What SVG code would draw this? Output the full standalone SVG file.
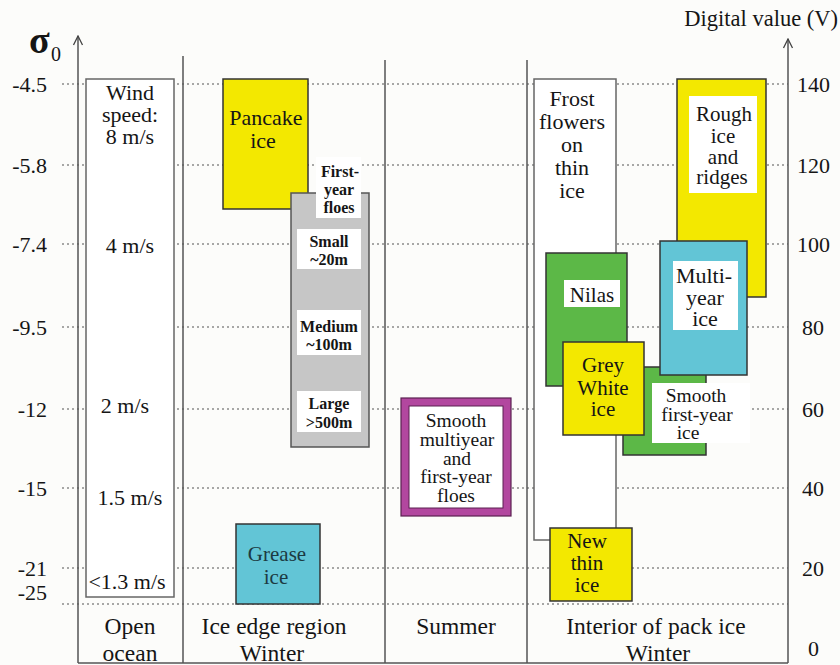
<svg xmlns="http://www.w3.org/2000/svg" width="840" height="665" viewBox="0 0 840 665">
<defs>
<marker id="arr" viewBox="-6 -1 12 12" markerWidth="12" markerHeight="12" refX="0" refY="0" orient="0" markerUnits="userSpaceOnUse">
<path d="M -4.5 9 L 0 0 L 4.5 9" fill="none" stroke="#444" stroke-width="1.3"/>
</marker>
</defs>
<style>
text{font-family:'Liberation Serif','Times New Roman','DejaVu Serif',serif;fill:#151515}
.t{font-size:22px;text-anchor:middle}
.s{font-size:21px}
.n{font-size:19.5px}
.b{font-size:16px;font-weight:bold;text-anchor:middle}
.tk{font-size:22px;text-anchor:end}
.tr{font-size:22px;text-anchor:start}
.c{font-size:23.5px;text-anchor:middle}
.ax{stroke:#555;stroke-width:1.5;fill:none}
.grid{stroke:#8a8a8a;stroke-width:1.3;stroke-dasharray:2 3;fill:none}
.box{stroke:#333;stroke-width:1.5}
.wbox{fill:#fff;stroke:#666;stroke-width:1.5}
.yel{fill:#f3e800}
.grn{fill:#5cb847}
.cyn{fill:#62c5d6}
.gry{fill:#c6c6c6}
.lab{fill:#fff}
</style>
<rect x="0" y="0" width="840" height="665" fill="#fcfcfa"/>

<g id="gridlines">
<path class="grid" d="M62 84H788M62 165H788M62 244H788M62 327H788M62 409H788M62 488H788M62 568H788M62 604H788"/>
</g>

<g id="connectors">
<line class="ax" x1="78" y1="663" x2="78" y2="36" marker-end="url(#arr)"/>
<line class="ax" x1="788" y1="663" x2="788" y2="39" marker-end="url(#arr)"/>
<line class="ax" x1="183" y1="56" x2="183" y2="663"/>
<line class="ax" x1="385" y1="60" x2="385" y2="663"/>
<line class="ax" x1="527" y1="60" x2="527" y2="663"/>
<line class="ax" x1="78" y1="663" x2="788" y2="663"/>
</g>

<g id="axis-left">
<text x="29" y="53" style="font-size:38px;font-weight:bold">σ</text>
<text x="51" y="61" style="font-size:20px">0</text>
<text class="tk" x="47" y="92">-4.5</text>
<text class="tk" x="47" y="173">-5.8</text>
<text class="tk" x="47" y="252">-7.4</text>
<text class="tk" x="47" y="335">-9.5</text>
<text class="tk" x="47" y="417">-12</text>
<text class="tk" x="47" y="496">-15</text>
<text class="tk" x="47" y="576">-21</text>
<text class="tk" x="47" y="600">-25</text>
</g>

<g id="axis-right">
<text x="838" y="26" style="font-size:22.5px;text-anchor:end">Digital value (V)</text>
<text class="tr" x="797" y="92">140</text>
<text class="tr" x="797" y="173">120</text>
<text class="tr" x="797" y="252">100</text>
<text class="tr" x="802" y="335">80</text>
<text class="tr" x="802" y="417">60</text>
<text class="tr" x="802" y="496">40</text>
<text class="tr" x="802" y="576">20</text>
<text class="tr" x="808" y="656">0</text>
</g>

<g id="wind">
<rect class="wbox" x="86" y="79" width="88" height="518"/>
<text class="t" x="130" y="100">Wind</text>
<text class="t" x="130" y="122">speed:</text>
<text class="t" x="130" y="144">8 m/s</text>
<text class="t" x="130" y="253">4 m/s</text>
<text class="t" x="125" y="413">2 m/s</text>
<text class="t" x="130" y="505">1.5 m/s</text>
<text class="t" x="127" y="589">&lt;1.3 m/s</text>
</g>

<g id="pancake">
<rect class="box yel" x="223" y="79" width="85" height="130"/>
<text class="t" x="266" y="125">Pancake</text>
<text class="t" x="263" y="148">ice</text>
</g>

<g id="first-year-floes">
<rect class="gry" x="291" y="193" width="78" height="254" stroke="#555" stroke-width="1.5"/>
<rect class="lab" x="316" y="157" width="45" height="61"/>
<text class="b" x="340" y="177">First-</text>
<text class="b" x="339" y="195">year</text>
<text class="b" x="339" y="213">floes</text>
<rect class="lab" x="297" y="229" width="64" height="40"/>
<text class="b" x="329" y="247">Small</text>
<text class="b" x="329" y="265">~20m</text>
<rect class="lab" x="297" y="310" width="64" height="45"/>
<text class="b" x="329" y="332">Medium</text>
<text class="b" x="329" y="350">~100m</text>
<rect class="lab" x="297" y="391" width="64" height="41"/>
<text class="b" x="329" y="409">Large</text>
<text class="b" x="329" y="428">&gt;500m</text>
</g>

<g id="grease">
<rect class="box cyn" x="236" y="524" width="84" height="80"/>
<text class="t s" x="277" y="561" style="fill:#1c3a42">Grease</text>
<text class="t s" x="276" y="584" style="fill:#1c3a42">ice</text>
</g>

<g id="summer">
<rect x="401" y="398" width="110" height="118" fill="#b2479f" stroke="#5a2050" stroke-width="1.2"/>
<rect x="409" y="406" width="94" height="102" fill="#fff" stroke="#5a2050" stroke-width="1"/>
<text class="t n" x="456" y="427">Smooth</text>
<text class="t n" x="457" y="446">multiyear</text>
<text class="t n" x="457" y="465">and</text>
<text class="t n" x="456" y="483">first-year</text>
<text class="t n" x="456" y="502">floes</text>
</g>

<g id="frost-flowers">
<rect class="wbox" x="534" y="79" width="82" height="461"/>
<text class="t" x="572" y="106">Frost</text>
<text class="t" x="572" y="129">flowers</text>
<text class="t" x="572" y="152">on</text>
<text class="t" x="572" y="175">thin</text>
<text class="t" x="572" y="198">ice</text>
</g>

<g id="rough-ice">
<rect class="box yel" x="677" y="79" width="89" height="218"/>
<rect class="lab" x="689" y="96" width="68" height="97"/>
<text class="t s" x="724" y="121">Rough</text>
<text class="t s" x="723" y="143">ice</text>
<text class="t s" x="723" y="164">and</text>
<text class="t s" x="722" y="184">ridges</text>
</g>

<g id="nilas">
<rect class="box grn" x="546" y="253" width="81" height="133"/>
<rect class="lab" x="564" y="280" width="56" height="27"/>
<text class="t s" x="592" y="302">Nilas</text>
</g>

<g id="smooth-first-year">
<rect class="box grn" x="623" y="367" width="83" height="88"/>
<rect class="lab" x="652" y="383" width="98" height="60"/>
<text class="t n" x="696" y="402">Smooth</text>
<text class="t n" x="697" y="421">first-year</text>
<text class="t n" x="688" y="439">ice</text>
</g>

<g id="multi-year">
<rect class="box cyn" x="660" y="241" width="87" height="134"/>
<rect class="lab" x="673" y="261" width="65" height="69"/>
<text class="t" x="704" y="283">Multi-</text>
<text class="t" x="705" y="305">year</text>
<text class="t" x="705" y="326">ice</text>
</g>

<g id="grey-white">
<rect class="box yel" x="563" y="342" width="81" height="93"/>
<text class="t s" x="603" y="372">Grey</text>
<text class="t s" x="603" y="395">White</text>
<text class="t s" x="603" y="416">ice</text>
</g>

<g id="new-thin-ice">
<rect class="box yel" x="550" y="528" width="82" height="73"/>
<text class="t s" x="587" y="548">New</text>
<text class="t s" x="587" y="570">thin</text>
<text class="t s" x="587" y="592">ice</text>
</g>

<g id="categories">
<text class="c" x="130" y="634">Open</text>
<text class="c" x="130" y="661">ocean</text>
<text class="c" x="274" y="634">Ice edge region</text>
<text class="c" x="272" y="661">Winter</text>
<text class="c" x="456" y="634">Summer</text>
<text class="c" x="656" y="634">Interior of pack ice</text>
<text class="c" x="658" y="661">Winter</text>
</g>
</svg>
